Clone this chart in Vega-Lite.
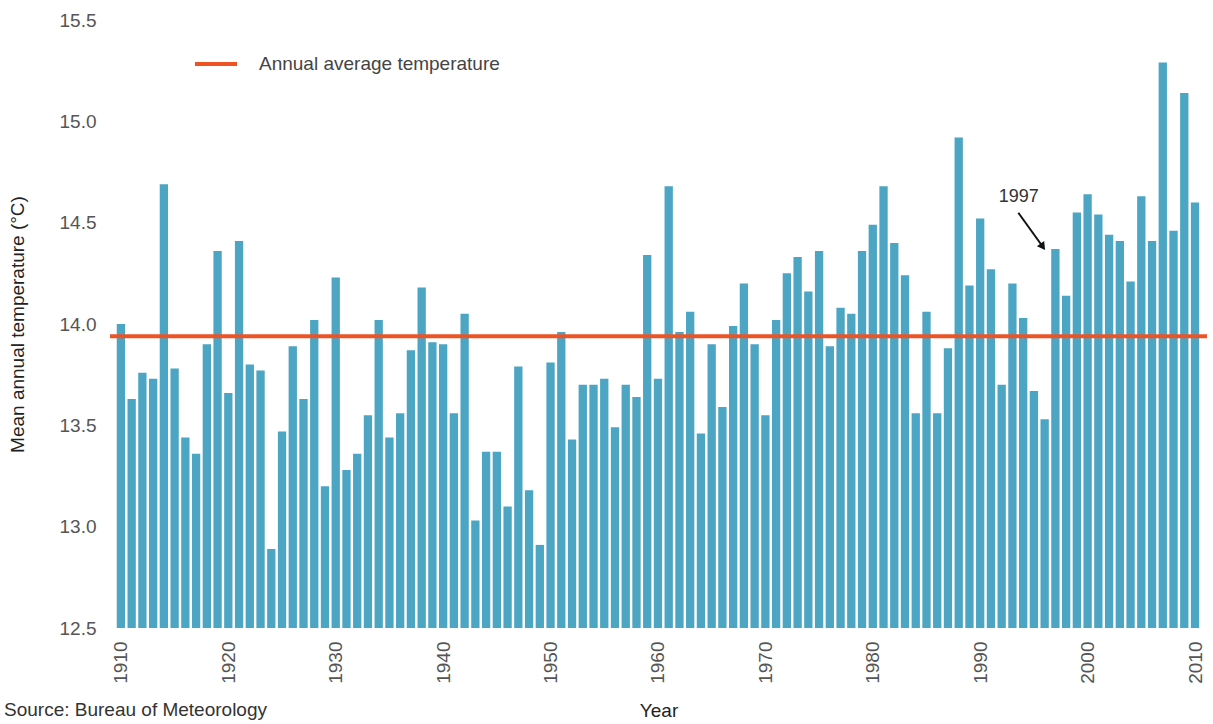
{
  "$schema": "https://vega.github.io/schema/vega-lite/v6.json",
  "width": 1097,
  "height": 608,
  "autosize": {"type": "none"},
  "padding": {"left": 110, "top": 20, "right": 6, "bottom": 96},
  "background": "white",
  "title": {
    "text": "Source: Bureau of Meteorology",
    "orient": "bottom",
    "anchor": "start",
    "frame": "bounds",
    "offset": -19,
    "dx": -4,
    "fontSize": 19,
    "font": "Liberation Sans",
    "fontWeight": "normal",
    "color": "#333333"
  },
  "datasets": {
    "temps": [
      {"year": 1910, "temp": 14.00}, {"year": 1911, "temp": 13.63}, {"year": 1912, "temp": 13.76}, {"year": 1913, "temp": 13.73},
      {"year": 1914, "temp": 14.69}, {"year": 1915, "temp": 13.78}, {"year": 1916, "temp": 13.44}, {"year": 1917, "temp": 13.36},
      {"year": 1918, "temp": 13.90}, {"year": 1919, "temp": 14.36}, {"year": 1920, "temp": 13.66}, {"year": 1921, "temp": 14.41},
      {"year": 1922, "temp": 13.80}, {"year": 1923, "temp": 13.77}, {"year": 1924, "temp": 12.89}, {"year": 1925, "temp": 13.47},
      {"year": 1926, "temp": 13.89}, {"year": 1927, "temp": 13.63}, {"year": 1928, "temp": 14.02}, {"year": 1929, "temp": 13.20},
      {"year": 1930, "temp": 14.23}, {"year": 1931, "temp": 13.28}, {"year": 1932, "temp": 13.36}, {"year": 1933, "temp": 13.55},
      {"year": 1934, "temp": 14.02}, {"year": 1935, "temp": 13.44}, {"year": 1936, "temp": 13.56}, {"year": 1937, "temp": 13.87},
      {"year": 1938, "temp": 14.18}, {"year": 1939, "temp": 13.91}, {"year": 1940, "temp": 13.90}, {"year": 1941, "temp": 13.56},
      {"year": 1942, "temp": 14.05}, {"year": 1943, "temp": 13.03}, {"year": 1944, "temp": 13.37}, {"year": 1945, "temp": 13.37},
      {"year": 1946, "temp": 13.10}, {"year": 1947, "temp": 13.79}, {"year": 1948, "temp": 13.18}, {"year": 1949, "temp": 12.91},
      {"year": 1950, "temp": 13.81}, {"year": 1951, "temp": 13.96}, {"year": 1952, "temp": 13.43}, {"year": 1953, "temp": 13.70},
      {"year": 1954, "temp": 13.70}, {"year": 1955, "temp": 13.73}, {"year": 1956, "temp": 13.49}, {"year": 1957, "temp": 13.70},
      {"year": 1958, "temp": 13.64}, {"year": 1959, "temp": 14.34}, {"year": 1960, "temp": 13.73}, {"year": 1961, "temp": 14.68},
      {"year": 1962, "temp": 13.96}, {"year": 1963, "temp": 14.06}, {"year": 1964, "temp": 13.46}, {"year": 1965, "temp": 13.90},
      {"year": 1966, "temp": 13.59}, {"year": 1967, "temp": 13.99}, {"year": 1968, "temp": 14.20}, {"year": 1969, "temp": 13.90},
      {"year": 1970, "temp": 13.55}, {"year": 1971, "temp": 14.02}, {"year": 1972, "temp": 14.25}, {"year": 1973, "temp": 14.33},
      {"year": 1974, "temp": 14.16}, {"year": 1975, "temp": 14.36}, {"year": 1976, "temp": 13.89}, {"year": 1977, "temp": 14.08},
      {"year": 1978, "temp": 14.05}, {"year": 1979, "temp": 14.36}, {"year": 1980, "temp": 14.49}, {"year": 1981, "temp": 14.68},
      {"year": 1982, "temp": 14.40}, {"year": 1983, "temp": 14.24}, {"year": 1984, "temp": 13.56}, {"year": 1985, "temp": 14.06},
      {"year": 1986, "temp": 13.56}, {"year": 1987, "temp": 13.88}, {"year": 1988, "temp": 14.92}, {"year": 1989, "temp": 14.19},
      {"year": 1990, "temp": 14.52}, {"year": 1991, "temp": 14.27}, {"year": 1992, "temp": 13.70}, {"year": 1993, "temp": 14.20},
      {"year": 1994, "temp": 14.03}, {"year": 1995, "temp": 13.67}, {"year": 1996, "temp": 13.53}, {"year": 1997, "temp": 14.37},
      {"year": 1998, "temp": 14.14}, {"year": 1999, "temp": 14.55}, {"year": 2000, "temp": 14.64}, {"year": 2001, "temp": 14.54},
      {"year": 2002, "temp": 14.44}, {"year": 2003, "temp": 14.41}, {"year": 2004, "temp": 14.21}, {"year": 2005, "temp": 14.63},
      {"year": 2006, "temp": 14.41}, {"year": 2007, "temp": 15.29}, {"year": 2008, "temp": 14.46}, {"year": 2009, "temp": 15.14},
      {"year": 2010, "temp": 14.60}
    ],
    "average": [
      {"series": "Annual average temperature", "avg": 13.94}
    ],
    "arrow": [
      {"x": 1993.55, "y": 14.549, "x2": 1995.83, "y2": 14.381}
    ],
    "head": [
      {"x": 1995.83, "y": 14.381}
    ],
    "label": [
      {"x": 1993.58, "y": 14.627, "text": "1997"}
    ]
  },
  "layer": [
    {
      "data": {"name": "temps"},
      "mark": {"type": "bar", "size": 8.3, "color": "#4ba5c3"},
      "encoding": {
        "x": {
          "field": "year",
          "type": "quantitative",
          "scale": {"domain": [1909.45, 2010.65], "nice": false, "zero": false},
          "axis": {
            "values": [1910, 1920, 1930, 1940, 1950, 1960, 1970, 1980, 1990, 2000, 2010],
            "format": "d",
            "labelAngle": -90,
            "labelPadding": 13,
            "title": "Year",
            "titlePadding": 18
          }
        },
        "y": {
          "field": "temp",
          "type": "quantitative",
          "scale": {"domain": [12.5, 15.5], "nice": false, "zero": false},
          "axis": {
            "values": [12.5, 13.0, 13.5, 14.0, 14.5, 15.0, 15.5],
            "format": ".1f",
            "labelPadding": 14,
            "title": "Mean annual temperature (°C)",
            "titlePadding": 32
          }
        },
        "y2": {"datum": 12.5}
      }
    },
    {
      "data": {"name": "average"},
      "mark": {"type": "rule", "strokeWidth": 4},
      "encoding": {
        "y": {"field": "avg", "type": "quantitative"},
        "color": {
          "field": "series",
          "type": "nominal",
          "scale": {"domain": ["Annual average temperature"], "range": ["#ee5326"]},
          "legend": {
            "title": null,
            "orient": "none",
            "legendX": 83,
            "legendY": 21,
            "symbolType": "stroke",
            "symbolSize": 1764,
            "symbolStrokeWidth": 4,
            "labelFontSize": 19,
            "labelFont": "Liberation Sans",
            "labelColor": "#444444",
            "labelOffset": 20,
            "labelLimit": 0
          }
        }
      }
    },
    {
      "data": {"name": "arrow"},
      "mark": {"type": "rule", "strokeWidth": 2, "color": "#111111"},
      "encoding": {
        "x": {"field": "x", "type": "quantitative"},
        "y": {"field": "y", "type": "quantitative"},
        "x2": {"field": "x2"},
        "y2": {"field": "y2"}
      }
    },
    {
      "data": {"name": "head"},
      "mark": {"type": "point", "shape": "triangle-up", "filled": true, "size": 80, "angle": 144, "color": "#111111", "opacity": 1},
      "encoding": {
        "x": {"field": "x", "type": "quantitative"},
        "y": {"field": "y", "type": "quantitative"}
      }
    },
    {
      "data": {"name": "label"},
      "mark": {"type": "text", "fontSize": 18, "font": "Liberation Sans", "color": "#333333", "align": "center", "baseline": "middle"},
      "encoding": {
        "x": {"field": "x", "type": "quantitative"},
        "y": {"field": "y", "type": "quantitative"},
        "text": {"field": "text"}
      }
    }
  ],
  "config": {
    "view": {"stroke": null},
    "axis": {
      "grid": false,
      "domain": false,
      "ticks": false,
      "labelFont": "Liberation Sans",
      "labelFontSize": 19,
      "labelColor": "#555555",
      "titleFont": "Liberation Sans",
      "titleFontSize": 19,
      "titleFontWeight": "normal",
      "titleColor": "#222222"
    }
  }
}
